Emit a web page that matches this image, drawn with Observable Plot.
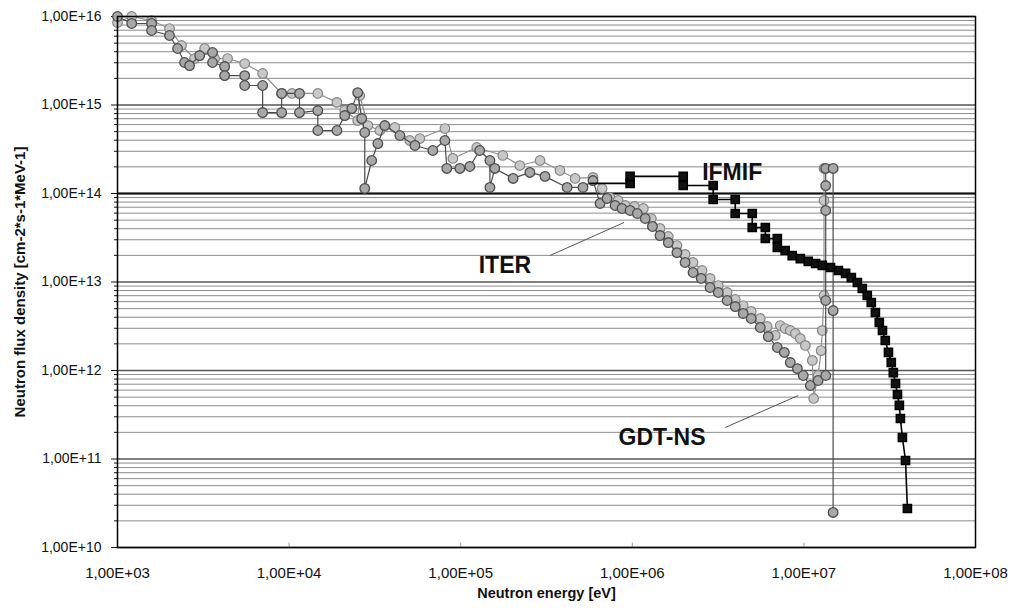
<!DOCTYPE html>
<html><head><meta charset="utf-8">
<script src="https://cdn.jsdelivr.net/npm/d3@7"></script>
<script src="https://cdn.jsdelivr.net/npm/@observablehq/plot@0.6"></script>
<style>body{margin:0;background:#fff;}</style>
</head><body><div id="chart"></div>
<script>
// Tick values
const xTicks = [1e3, 1e4, 1e5, 1e6, 1e7, 1e8];
const yTicks = [1e10, 1e11, 1e12, 1e13, 1e14, 1e15, 1e16];
const xLabel = "Neutron energy [eV]";
const yLabel = "Neutron flux density [cm-2*s-1*MeV-1]";

// ITER spectrum (energy eV, flux)
const iterE = [1.00e3,1.21e3,1.58e3,1.58e3,2.01e3,2.24e3,2.46e3,2.63e3,3.01e3,3.58e3,3.58e3,4.21e3,4.21e3,5.51e3,5.51e3,7.01e3,7.01e3,9.05e3,9.05e3,1.15e4,1.15e4,1.47e4,1.47e4,1.90e4,2.11e4,2.32e4,2.51e4,2.65e4,2.76e4,2.76e4,3.03e4,3.29e4,3.61e4,4.42e4,5.41e4,6.88e4,8.09e4,8.30e4,9.89e4,1.13e5,1.29e5,1.48e5,1.48e5,1.58e5,2.02e5,2.53e5,3.10e5,4.17e5,5.16e5,5.90e5,6.49e5,7.13e5,7.94e5,8.71e5,9.71e5,1.07e6,1.19e6,1.31e6,1.45e6,1.62e6,1.82e6,2.03e6,2.26e6,2.52e6,2.84e6,3.17e6,3.57e6,3.98e6,4.43e6,4.93e6,5.57e6,6.20e6,7.00e6,7.69e6,8.33e6,9.16e6,9.91e6,1.09e7,1.21e7,1.34e7,1.34e7,1.34e7,1.34e7,1.34e7,1.48e7,1.48e7,1.48e7];
const iterF = [1.0e16,8.34e15,8.34e15,6.95e15,6.10e15,4.35e15,3.02e15,2.79e15,3.62e15,3.92e15,3.02e15,2.72e15,2.15e15,2.15e15,1.66e15,1.66e15,8.22e14,8.22e14,1.35e15,1.35e15,8.22e14,8.66e14,5.15e14,5.15e14,7.60e14,9.12e14,1.38e15,7.03e14,4.89e14,1.14e14,2.36e14,3.67e14,5.86e14,4.52e14,3.49e14,3.06e14,3.97e14,1.92e14,1.92e14,2.02e14,3.06e14,2.36e14,1.17e14,1.92e14,1.48e14,1.73e14,1.56e14,1.17e14,1.17e14,1.40e14,7.72e13,8.79e13,7.32e13,6.77e13,6.43e13,5.94e13,5.22e13,4.24e13,3.35e13,2.79e13,2.15e13,1.66e13,1.28e13,1.10e13,8.67e12,7.61e12,6.18e12,5.28e12,4.41e12,3.87e12,3.06e12,2.42e12,1.82e12,1.60e12,1.23e12,1.05e12,8.78e11,6.77e11,7.71e11,8.78e11,6.18e12,6.43e13,1.23e14,1.92e14,1.92e14,4.76e12,2.49e10];

// GDT-NS spectrum
const gdtE = [1.00e3,1.21e3,1.58e3,2.01e3,2.36e3,2.81e3,3.22e3,3.68e3,4.38e3,5.51e3,7.01e3,9.05e3,1.04e4,1.47e4,1.90e4,2.11e4,2.51e4,2.58e4,2.88e4,3.38e4,4.13e4,5.05e4,5.78e4,8.09e4,9.00e4,1.24e5,1.76e5,2.21e5,2.90e5,3.79e5,4.64e5,5.90e5,6.67e5,7.41e5,8.27e5,9.08e5,1.03e6,1.16e6,1.29e6,1.45e6,1.62e6,1.82e6,2.03e6,2.26e6,2.55e6,2.84e6,3.17e6,3.57e6,3.98e6,4.43e6,4.93e6,5.57e6,6.11e6,6.81e6,7.28e6,7.78e6,8.33e6,8.91e6,9.53e6,1.02e7,1.12e7,1.14e7,1.21e7,1.26e7,1.28e7,1.31e7,1.31e7,1.31e7];
const gdtF = [8.55e15,1.0e16,9.0e15,7.31e15,4.70e15,3.35e15,4.35e15,3.35e15,3.35e15,2.94e15,2.27e15,1.35e15,1.35e15,1.35e15,1.07e15,8.66e14,6.68e14,1.28e15,5.86e14,5.15e14,5.57e14,3.97e14,4.18e14,5.42e14,2.49e14,3.31e14,2.69e14,2.07e14,2.36e14,1.82e14,1.48e14,1.52e14,1.14e14,9.0e13,8.34e13,7.32e13,7.13e13,6.77e13,5.22e13,4.03e13,3.27e13,2.58e13,2.05e13,1.66e13,1.35e13,1.10e13,9.12e12,7.61e12,6.34e12,5.42e12,4.65e12,3.87e12,3.14e12,2.49e12,3.22e12,2.98e12,2.83e12,2.62e12,2.30e12,1.92e12,1.30e12,4.83e11,8.78e11,1.68e12,2.83e12,7.04e12,8.34e13,1.92e14];

// IFMIF spectrum
const ifmifE = [5.67e5,9.71e5,9.71e5,1.98e6,1.98e6,2.96e6,2.96e6,3.98e6,3.98e6,5.00e6,5.00e6,5.96e6,5.96e6,7.00e6,7.00e6,7.78e6,8.55e6,9.53e6,1.06e7,1.17e7,1.28e7,1.43e7,1.59e7,1.75e7,1.89e7,2.05e7,2.19e7,2.34e7,2.47e7,2.61e7,2.75e7,2.87e7,2.98e7,3.11e7,3.23e7,3.32e7,3.42e7,3.51e7,3.60e7,3.65e7,3.75e7,3.91e7,4.01e7];
const ifmifF = [1.30e14,1.30e14,1.56e14,1.56e14,1.23e14,1.23e14,8.55e13,8.55e13,5.94e13,5.94e13,4.13e13,4.13e13,3.10e13,3.10e13,2.46e13,2.27e13,1.99e13,1.84e13,1.71e13,1.62e13,1.54e13,1.46e13,1.35e13,1.25e13,1.12e13,9.87e12,8.45e12,7.04e12,5.86e12,4.52e12,3.49e12,2.83e12,2.18e12,1.60e12,1.23e12,9.48e11,7.13e11,5.36e11,4.03e11,2.87e11,1.75e11,9.62e10,2.76e10];

// Series labels and leader lines
const labelNames = ["IFMIF", "ITER", "GDT-NS"];
const labelE = [3.82e6, 1.81e5, 1.49e6];
const labelF = [1.73e14, 1.54e13, 1.75e11];
const leaderE1 = [3.31e5, 3.48e6], leaderF1 = [1.99e13, 2.27e11];
const leaderE2 = [8.95e5, 9.27e6], leaderF2 = [4.70e13, 5.22e11];

const zip = (E, F) => E.map((e, i) => ({e, f: F[i]}));
const iter = zip(iterE, iterF), gdt = zip(gdtE, gdtF), ifmif = zip(ifmifE, ifmifF);
const labels = labelNames.map((t, i) => ({t, e: labelE[i], f: labelF[i]}));
const leaders = leaderE1.map((e, i) => ({e1: e, f1: leaderF1[i], e2: leaderE2[i], f2: leaderF2[i]}));
const yMinor = yTicks.slice(0, -1).flatMap(t => [2,3,4,5,6,7,8,9].map(k => k * t));
const fmt = v => "1,00E+" + String(Math.round(Math.log10(v))).padStart(2, "0");

const chart = Plot.plot({
  width: 1017, height: 611,
  marginLeft: 117, marginRight: 42, marginTop: 16, marginBottom: 64,
  style: {fontFamily: "'Liberation Sans', Arial, sans-serif", background: "#fff", color: "#111"},
  x: {type: "log", domain: [1e3, 1e8]},
  y: {type: "log", domain: [1e10, 1e16]},
  marks: [
    Plot.ruleY(yMinor, {stroke: "#8c8c8c", strokeWidth: 1}),
    Plot.ruleY(yTicks, {stroke: "#555", strokeWidth: 1.3}),
    Plot.ruleY([1e14], {stroke: "#111", strokeWidth: 2.2}),
    Plot.axisY(yMinor, {tickSize: 3, tickFormat: () => "", label: null}),
    Plot.axisY(yTicks, {tickSize: 6, tickPadding: 10, tickFormat: fmt, fontSize: 14, label: null}),
    Plot.axisX(xTicks, {tickSize: 0, tickPadding: 20, tickFormat: fmt, fontSize: 15, label: null}),
    Plot.ruleX(xTicks, {y1: 1e10, y2: 1.12e10, stroke: "#999"}),
    Plot.line(gdt, {x: "e", y: "f", stroke: "#8f8f8f", strokeWidth: 1.2}),
    Plot.dot(gdt, {x: "e", y: "f", r: 4.8, fill: "#c8c8c8", stroke: "#858585", strokeWidth: 1.2}),
    Plot.line(iter, {x: "e", y: "f", stroke: "#4a4a4a", strokeWidth: 1.2}),
    Plot.dot(iter, {x: "e", y: "f", r: 4.8, fill: "#a8a8a8", stroke: "#4d4d4d", strokeWidth: 1.3}),
    Plot.line(ifmif, {x: "e", y: "f", stroke: "#000", strokeWidth: 1.6}),
    Plot.dot(ifmif.slice(1), {x: "e", y: "f", symbol: "square", r: 4.6, fill: "#111", stroke: "#000"}),
    Plot.link(leaders, {x1: "e1", y1: "f1", x2: "e2", y2: "f2", stroke: "#555", strokeWidth: 1}),
    Plot.text(labels, {x: "e", y: "f", text: "t", fontSize: 23, fontWeight: "bold", fill: "#111"}),
    Plot.text([xLabel], {frameAnchor: "bottom", dy: 50, text: d => d, fontSize: 14.5, fontWeight: "bold"}),
    Plot.text([yLabel], {frameAnchor: "left", textAnchor: "middle", dx: -97, rotate: -90, text: d => d, fontSize: 15, fontWeight: "bold"}),
    Plot.frame({stroke: "#000", strokeWidth: 1.5})
  ]
});
document.getElementById("chart").appendChild(chart);
</script>
</body></html>
